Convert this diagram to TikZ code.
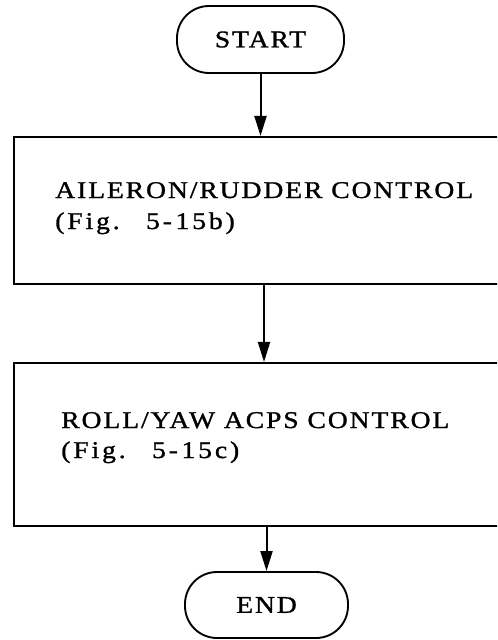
\documentclass[tikz,border=0pt]{standalone}
\usepackage{fontspec}
\setmainfont{Liberation Serif}[FakeStretch=1.15,LetterSpace=8,FakeBold=1.2]
\newfontfamily\figfont{Liberation Serif}[FakeStretch=1.15,LetterSpace=12,FakeBold=1.2]
\usetikzlibrary{arrows.meta}
\tikzset{
  term/.style={draw, line width=1.4pt, rectangle, rounded corners=24pt, inner sep=0pt},
  procbox/.style={draw, line width=1.6pt, rectangle, inner sep=0pt},
  txt/.style={anchor=base west, inner sep=0pt, font=\fontsize{18}{21}\selectfont},
  figtxt/.style={anchor=base west, inner sep=0pt, font=\fontsize{18}{21}\figfont},
  ttxt/.style={inner sep=0pt, font=\fontsize{18}{21}\selectfont},
  flow/.style={line width=1.5pt, -{Triangle[length=15pt,width=9pt]}}
}
\begin{document}
\begin{tikzpicture}[x=0.75pt,y=-0.75pt]
\useasboundingbox (0,0) rectangle (497,640);
\clip (0,0) rectangle (497,640);
\fill[white] (0,0) rectangle (497,640);
% terminals
\node[term, minimum width=125.25pt, minimum height=50.25pt] (start) at (260.5,39.5) {};
\node[ttxt] (starttxt) at (start.center) {START};
\node[term, minimum width=122.25pt, minimum height=49.5pt] (end) at (266.5,605) {};
\node[ttxt] (endtxt) at (end.center) {END};
% process boxes
\node[procbox, minimum width=375pt, minimum height=110.25pt] (box1) at (264,210.5) {};
\node[procbox, minimum width=375pt, minimum height=122.25pt] (box2) at (264,444.5) {};
% texts
\node[txt] (b1l1) at (55,198) {AILERON/RUDDER CONTROL};
\node[figtxt] (b1l2) at (55,229) {(Fig.\hspace{1.1em}5-\hspace{0.15em}15b)};
\node[txt] (b2l1) at (61,428) {ROLL/YAW ACPS CONTROL};
\node[figtxt] (b2l2) at (61,458) {(Fig.\hspace{1.1em}5-\hspace{0.15em}15c)};
% connectors
\draw[flow] (start.south) -- (start.south |- box1.north);
\draw[flow] (box1.south) -- (box2.north);
\draw[flow] (box2.south -| end.north) -- (end.north);
\end{tikzpicture}
\end{document}
